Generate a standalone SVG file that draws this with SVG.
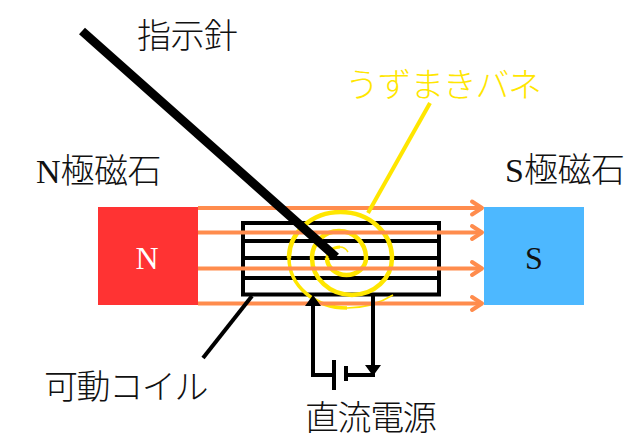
<svg xmlns="http://www.w3.org/2000/svg" width="640" height="445" viewBox="0 0 640 445">
<style>
text{font-family:"Liberation Serif","Noto Sans CJK JP",serif;font-size:34px;font-weight:300;fill:#111}
.j{font-family:"Noto Sans CJK JP",sans-serif;font-weight:300;letter-spacing:-.5px}
.t{letter-spacing:-1.400px}
.y{fill:#ffe600}
.f{stroke:#ff8c4d;stroke-width:4;fill:none}
.c{stroke:#000;stroke-width:4;fill:none}
.s{stroke:#ffe600;fill:none}
</style>
<defs>
<marker id="a" markerUnits="userSpaceOnUse" markerWidth="16" markerHeight="18" refX="12" refY="9" orient="auto" overflow="visible"><path d="M2 2.500L12 9L2 15.500" fill="none" stroke="#ff8c4d" stroke-width="4" stroke-linecap="round" stroke-linejoin="round"/></marker>
</defs>
<g id="n-magnet"><rect x="98" y="207" width="100" height="98" fill="#ff3333"/><text x="147" y="269" text-anchor="middle" style="fill:#fff;font-size:32px">N</text></g>
<g id="s-magnet"><rect x="484" y="207" width="100" height="98" fill="#4db8ff"/><text x="534" y="269" text-anchor="middle" style="font-size:32px">S</text></g>
<g id="coil"><rect x="243" y="223" width="196" height="71.500" class="c"/><path class="c" d="M243 241H439M243 258H439M243 278H439"/></g>
<g id="spring">
<path class="s" stroke-width="1.500" d="M393 295Q372 308 347 308"/>
<path class="s" stroke-width="3.500" d="M347 308A58 50 0 0 1 289 258"/>
<path class="s" stroke-width="4.500" d="M289 258A51.500 46 0 0 1 392 258A40 37 0 0 1 312 258A27 27 0 0 1 366 258A19.500 17 0 0 1 327 258"/>
<path class="s" stroke-width="3" d="M327 258A13 11 0 0 1 340 247"/>
<path class="s" stroke-width="1.500" d="M340 247Q345 247 348 252"/>
</g>
<g id="connectors">
<path class="f" marker-end="url(#a)" d="M198 208H482"/>
<path class="f" marker-end="url(#a)" d="M198 232.500H482"/>
<path class="f" marker-end="url(#a)" d="M198 268.500H482"/>
<path class="f" marker-end="url(#a)" d="M198 303.500H482"/>
<path d="M430 103L368 213" stroke="#ffe600" stroke-width="4" fill="none"/>
<path d="M82 31L336 257" stroke="#000" stroke-width="9" fill="none"/>
<path class="c" d="M252 296L203 358"/>
<path class="c" d="M313 300V375H334M346 375H373V294"/>
<path d="M305 306L313 295L321 306ZM365 365H381L373 376Z" fill="#000"/>
<path d="M334 360V390" stroke="#000" stroke-width="4"/>
<path d="M346 366V381" stroke="#000" stroke-width="4"/>
</g>
<g id="labels">
<text class="j" x="137" y="48">指示針</text>
<text x="36" y="183">N<tspan class="j">極磁石</tspan></text>
<text x="505" y="182">S<tspan class="j">極磁石</tspan></text>
<text class="j y t" x="345" y="97">うずまきバネ</text>
<text class="j t" x="44" y="399">可動コイル</text>
<text class="j t" x="305" y="430">直流電源</text>
</g>
</svg>
